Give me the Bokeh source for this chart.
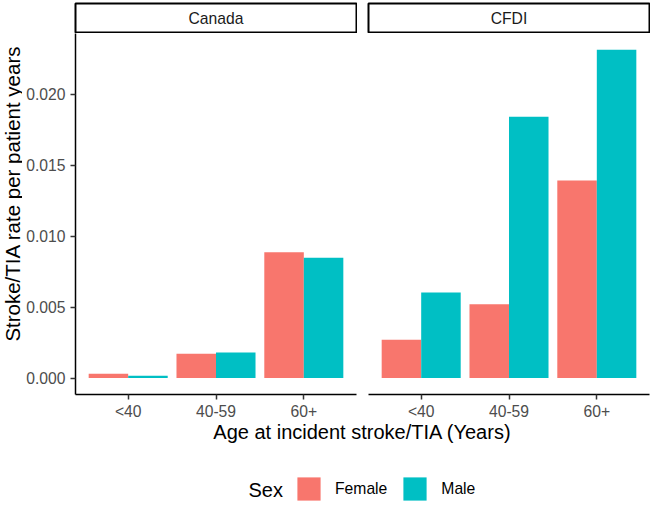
import math
from bokeh.plotting import figure
from bokeh.models import (ColumnDataSource, FactorRange, Range1d, FixedTicker,
                          NumeralTickFormatter, Label, Legend, LegendItem)
from bokeh.transform import dodge
from bokeh.layouts import column, row
from bokeh.embed import file_html
from bokeh.resources import INLINE

# ---------------- data ----------------
ages = ["<40", "40-59", "60+"]
panels = ["Canada", "CFDI"]
sexes = ["Female", "Male"]
canada_female = [0.00031, 0.00172, 0.00887]
canada_male = [0.00017, 0.00181, 0.00848]
cfdi_female = [0.00270, 0.00521, 0.01393]
cfdi_male = [0.00604, 0.01843, 0.02315]
y_ticks = [0.000, 0.005, 0.010, 0.015, 0.020]
y_title = "Stroke/TIA rate per patient years"
x_title = "Age at incident stroke/TIA (Years)"
legend_title = "Sex"

# ---------------- style ----------------
FONT = "Liberation Sans"
sex_colors = {"Female": "#F8766D", "Male": "#00BFC4"}
TICK_FS = "15.7px"
TITLE_FS = "20px"
YTITLE_FS = "20.5px"

y_range = Range1d(-0.001157, 0.024300)


def make_panel(female, male, width, left, show_y):
    src = ColumnDataSource(dict(age=ages, Female=female, Male=male))
    xr = FactorRange(*ages, range_padding=0.1, range_padding_units="absolute")
    p = figure(x_range=xr, y_range=y_range, width=width, height=389,
               output_backend="svg", toolbar_location=None, title=None,
               min_border_left=left, min_border_right=1, min_border_top=0,
               min_border_bottom=28,
               y_axis_location="left" if show_y else None)
    for s, off in zip(sexes, (-0.225, 0.225)):
        p.vbar(x=dodge("age", off, range=xr), top=s, width=0.45, bottom=0,
               source=src, fill_color=sex_colors[s], line_color=None)
    p.grid.visible = False
    p.outline_line_color = None
    p.background_fill_color = "white"
    for ax in p.axis:
        ax.axis_line_color = "black"
        ax.axis_line_width = 1.5
        ax.major_tick_line_color = "#333333"
        ax.major_tick_line_width = 1.5
        ax.major_tick_out = 5
        ax.major_tick_in = 0
        ax.minor_tick_out = 0
        ax.minor_tick_in = 0
        ax.major_label_text_font = FONT
        ax.major_label_text_font_size = TICK_FS
        ax.major_label_text_color = "#4D4D4D"
        ax.major_label_standoff = 3
    if show_y:
        ya = p.yaxis[0]
        ya.ticker = FixedTicker(ticks=y_ticks)
        ya.formatter = NumeralTickFormatter(format="0.000")
        ya.major_label_standoff = 5
    return p


def make_strip(name, width, left):
    s = figure(x_range=Range1d(0, 1), y_range=Range1d(0, 1), width=width, height=33,
               output_backend="svg", toolbar_location=None, title=None,
               min_border_left=left, min_border_right=1, min_border_top=3,
               min_border_bottom=1, x_axis_location=None, y_axis_location=None)
    s.grid.visible = False
    s.outline_line_color = "black"
    s.outline_line_width = 2
    s.background_fill_color = "white"
    s.add_layout(Label(x=0.5, y=0.5, text=name, text_align="center",
                       text_baseline="middle", text_font=FONT,
                       text_font_size=TICK_FS, text_color="#1A1A1A"))
    return s


def blank(width, height):
    f = figure(x_range=Range1d(0, 1), y_range=Range1d(0, 1), width=width, height=height,
               output_backend="svg", toolbar_location=None, title=None,
               min_border_left=0, min_border_right=0, min_border_top=0,
               min_border_bottom=0, x_axis_location=None, y_axis_location=None)
    f.grid.visible = False
    f.outline_line_color = None
    return f


# y-axis title column
yt = blank(22, 389)
yt.add_layout(Label(x=12, y=201, x_units="screen", y_units="screen", text=y_title,
                    angle=math.pi / 2, text_align="center", text_baseline="middle",
                    text_font=FONT, text_font_size=YTITLE_FS, text_color="black"))

f1 = make_panel(canada_female, canada_male, 335, 53, True)
f2 = make_panel(cfdi_female, cfdi_male, 293, 11, False)
s1 = make_strip(panels[0], 357, 75)
s2 = make_strip(panels[1], 293, 11)

# bottom area: x-axis title and legend
b = figure(x_range=FactorRange(*ages), y_range=Range1d(0, 83), width=650, height=83,
           output_backend="svg", toolbar_location=None, title=None,
           min_border_left=0, min_border_right=0, min_border_top=0, min_border_bottom=0,
           x_axis_location=None, y_axis_location=None)
b.grid.visible = False
b.outline_line_color = None
leg_src = ColumnDataSource(dict(age=ages, Female=canada_female, Male=canada_male))
items = []
for s in sexes:
    r = b.vbar(x="age", top=s, width=0.45, source=leg_src,
               fill_color=sex_colors[s], line_color=None, visible=False)
    items.append(LegendItem(label=s, renderers=[r]))

b.add_layout(Label(x=362, y=74, x_units="screen", y_units="screen", text=x_title,
                   text_align="center", text_baseline="middle", text_font=FONT,
                   text_font_size=TITLE_FS, text_color="black"))
b.add_layout(Label(x=248, y=16, x_units="screen", y_units="screen", text=legend_title,
                   text_align="left", text_baseline="middle", text_font=FONT,
                   text_font_size=TITLE_FS, text_color="black"))

legend = Legend(items=items, orientation="horizontal", location=(294, 2),
                label_text_font=FONT, label_text_font_size=TICK_FS,
                label_text_color="black", label_standoff=12, spacing=13,
                glyph_width=29, glyph_height=29, padding=0, margin=0,
                border_line_color=None, background_fill_alpha=0,
                click_policy="none")
b.add_layout(legend)

layout = column(row(s1, s2), row(yt, f1, f2), b)

open("out.html", "w").write(file_html(layout, INLINE))
